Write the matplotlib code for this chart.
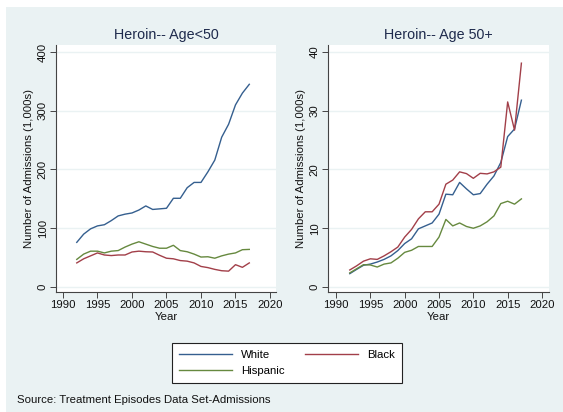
import matplotlib
matplotlib.use("Agg")
import matplotlib.pyplot as plt
from matplotlib.patches import Rectangle
from matplotlib.lines import Line2D

plt.rcParams['font.family'] = ['Liberation Sans', 'DejaVu Sans']

years = list(range(1992, 2018))

# Age < 50 (1,000s)
white_u50 = [76, 90, 99, 104, 106, 113, 121, 124, 126, 131, 138, 132, 133, 134, 151, 151,
             169, 178, 178, 196, 216, 255, 277, 310, 330, 345]
black_u50 = [41, 48, 53, 58, 54.5, 53.5, 54.5, 54.5, 59.6, 61, 60, 59.6, 54, 49, 48, 45,
             44, 41, 35, 33, 30, 27.7, 27, 38, 33.5, 41]
hisp_u50 = [47, 56, 61, 61, 58, 61, 62, 68, 73, 77, 73, 69, 66, 66, 71, 62,
            60, 56, 51, 51.5, 49, 53, 56, 58, 63.5, 64]

# Age 50+ (1,000s)
white_50p = [2.27, 3.0, 3.7, 3.9, 4.25, 4.7, 5.3, 6.2, 7.4, 8.2, 9.9, 10.4, 10.9, 12.4, 15.8, 15.7,
             17.8, 16.7, 15.7, 15.9, 17.5, 18.9, 21.2, 25.6, 26.9, 31.8]
black_50p = [2.9, 3.6, 4.4, 4.8, 4.7, 5.3, 6.0, 6.8, 8.5, 9.8, 11.6, 12.8, 12.8, 14.1, 17.5, 18.2,
             19.6, 19.3, 18.5, 19.35, 19.25, 19.6, 20.4, 31.5, 26.7, 38.1]
hisp_50p = [2.4, 3.1, 3.8, 3.75, 3.4, 3.9, 4.1, 4.9, 5.9, 6.25, 6.9, 6.9, 6.9, 8.5, 11.5, 10.4,
            10.9, 10.3, 10.0, 10.4, 11.1, 12.1, 14.2, 14.6, 14.1, 15.0]

series_names = ["White", "Black", "Hispanic"]
titles = ["Heroin-- Age<50", "Heroin-- Age 50+"]
x_ticks = [1990, 1995, 2000, 2005, 2010, 2015, 2020]
y_ticks_left = [0, 100, 200, 300, 400]
y_ticks_right = [0, 10, 20, 30, 40]

colors = {"White": "#355f8f", "Black": "#a23f49", "Hispanic": "#66893f"}
bg = "#eaf2f3"
W, H = 563, 412
fs = 8.2

fig = plt.figure(figsize=(W / 100, H / 100), dpi=100, facecolor="white")
fig.patches.append(Rectangle((6 / W, 0), 1 - 6 / W, 1 - 7 / H, transform=fig.transFigure,
                             facecolor=bg, edgecolor="none", zorder=-10))

panels = [
    dict(rect=[56 / W, 1 - 292 / H, 220 / W, 247 / H], xlim=(1988.99, 2020.87), ylim=(-8.5, 411.9),
         yt=y_ticks_left, data=[white_u50, black_u50, hisp_u50]),
    dict(rect=[328 / W, 1 - 292 / H, 221 / W, 247 / H], xlim=(1988.83, 2021.02), ylim=(-0.85, 41.19),
         yt=y_ticks_right, data=[white_50p, black_50p, hisp_50p]),
]

title_color = "#1e2a4c"
for i, p in enumerate(panels):
    ax = fig.add_axes(p["rect"])
    ax.set_facecolor("white")
    for name, vals in zip(series_names, p["data"]):
        ax.plot(years, vals, color=colors[name], lw=1.0, label=name)
    ax.set_xlim(*p["xlim"])
    ax.set_ylim(*p["ylim"])
    ax.set_xticks(x_ticks)
    ax.set_yticks(p["yt"])
    ax.set_yticklabels([str(v) for v in p["yt"]], rotation=90, va="center")
    ax.grid(axis="y", color=bg, lw=1.0)
    ax.set_axisbelow(True)
    for s in ["top", "right"]:
        ax.spines[s].set_visible(False)
    for s in ["left", "bottom"]:
        ax.spines[s].set_color("#444444")
        ax.spines[s].set_linewidth(0.8)
    ax.tick_params(axis="both", direction="out", length=4, width=0.7, color="#444444",
                   labelsize=fs, labelcolor="#111111", pad=2)
    ax.set_xlabel("Year", fontsize=fs, labelpad=1, color="#111111")
    ax.set_ylabel("Number of Admissions (1,000s)", fontsize=fs, labelpad=3, color="#111111")
    ax.set_title(titles[i], fontsize=10.3, color=title_color, pad=4.5)

handles = [Line2D([], [], color=colors["White"], lw=1.0),
           Line2D([], [], color=colors["Hispanic"], lw=1.0),
           Line2D([], [], color=colors["Black"], lw=1.0)]
labels = ["White", "Hispanic", "Black"]
leg = fig.legend(handles, labels, ncol=2, loc="center",
                 bbox_to_anchor=((172 + 402) / 2 / W, 1 - 363 / H),
                 fontsize=fs, frameon=True, fancybox=False, edgecolor="#222222", framealpha=1,
                 handlelength=4.65, handletextpad=0.8, columnspacing=1.8,
                 labelspacing=0.55, borderpad=0.6)
leg.get_frame().set_linewidth(0.8)
leg.get_frame().set_facecolor("white")

fig.text(17 / W, 1 - 400 / H, "Source: Treatment Episodes Data Set-Admissions",
         fontsize=fs, color="#111111", va="center", ha="left")

fig.savefig("out.png", dpi=100, facecolor=fig.get_facecolor())
